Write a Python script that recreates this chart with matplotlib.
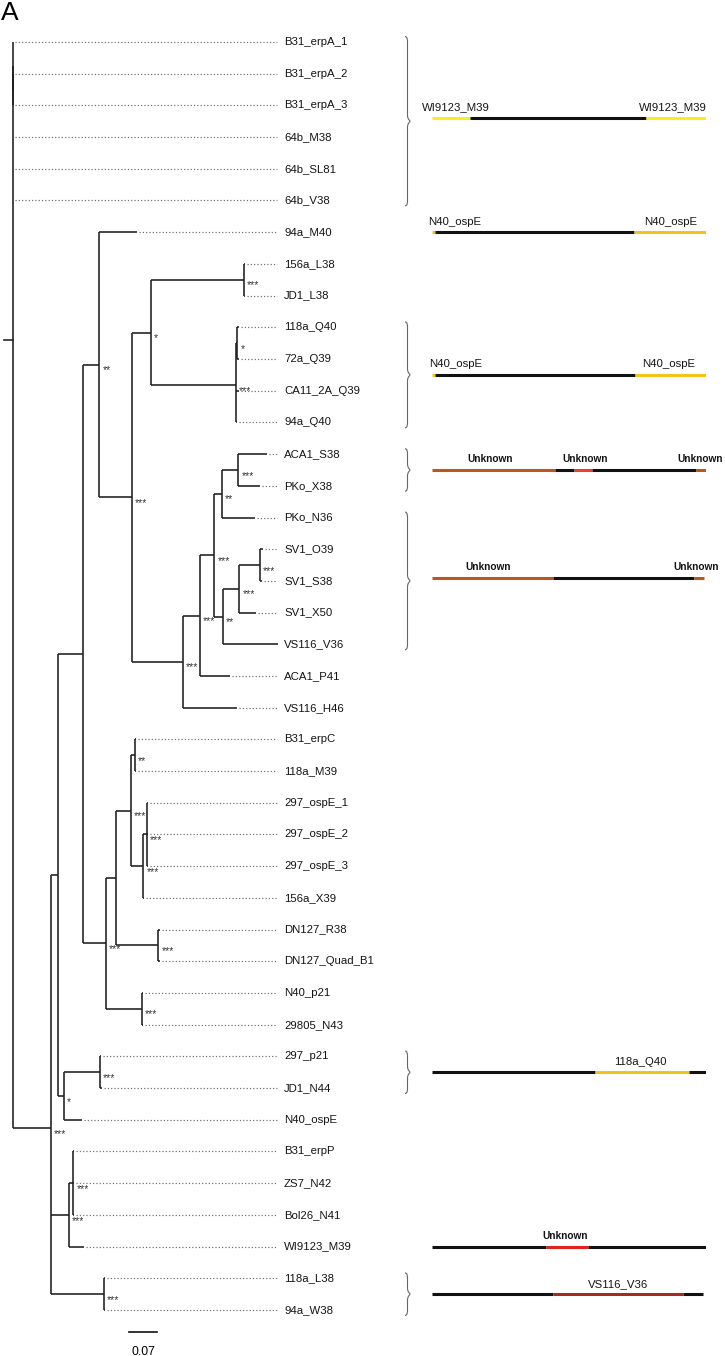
import matplotlib
matplotlib.use('Agg')
import matplotlib.pyplot as plt
from matplotlib.path import Path
from matplotlib.patches import PathPatch
import numpy as np

# --- tree data (depth = distance from root, substitutions/site) ---
LEAVES = ["B31_erpA_1", "B31_erpA_2", "B31_erpA_3", "64b_M38", "64b_SL81", "64b_V38",
          "94a_M40", "156a_L38", "JD1_L38", "118a_Q40", "72a_Q39", "CA11_2A_Q39", "94a_Q40",
          "ACA1_S38", "PKo_X38", "PKo_N36", "SV1_O39", "SV1_S38", "SV1_X50", "VS116_V36",
          "ACA1_P41", "VS116_H46", "B31_erpC", "118a_M39", "297_ospE_1", "297_ospE_2",
          "297_ospE_3", "156a_X39", "DN127_R38", "DN127_Quad_B1", "N40_p21", "29805_N43",
          "297_p21", "JD1_N44", "N40_ospE", "B31_erpP", "ZS7_N42", "Bol26_N41",
          "WI9123_M39", "118a_L38", "94a_W38"]
LEAF_PARENT = ["e123", "e23", "e23", "root", "root", "root",
               "D", "G", "G", "I", "I", "H", "H",
               "O", "O", "M", "Q", "Q", "P", "N",
               "K", "J", "X", "X", "Z", "Z",
               "Z", "Y", "W", "W", "U", "U",
               "AA", "AA", "AB", "BB", "BB", "BB",
               "AC", "AD", "AD"]
LEAF_DEPTH = [0.0, 0.0, 0.0, 0.0, 0.0, 0.0,
              0.311, 0.581, 0.581, 0.5655, 0.5655, 0.5655, 0.5605,
              0.635, 0.618, 0.6058, 0.625, 0.6233, 0.6083, 0.662,
              0.5433, 0.561, 0.308, 0.308, 0.337, 0.337,
              0.337, 0.328, 0.367, 0.367, 0.3245, 0.3245,
              0.2208, 0.2233, 0.174, 0.153, 0.153, 0.153,
              0.179, 0.2308, 0.2308]

NODES = ["root", "e123", "e23", "A", "B", "C", "D", "E", "F", "G", "H", "I",
         "J", "K", "L", "M", "O", "N", "P", "Q", "S", "T", "V", "X", "Y", "Z",
         "W", "U", "AB", "AA", "AC", "BB", "AD"]
NODE_PARENT = [None, "root", "e123", "root", "A", "B", "C", "D", "E", "F", "F", "H",
               "E", "J", "K", "L", "M", "L", "N", "P", "C", "S", "T", "V", "V", "Y",
               "T", "S", "B", "AB", "A", "AC", "A"]
NODE_DEPTH = [0.0, 0.0, 0.0, 0.095, 0.114, 0.1765, 0.2165, 0.2975, 0.345, 0.578, 0.557, 0.5615,
              0.425, 0.468, 0.504, 0.5225, 0.564, 0.525, 0.5665, 0.618, 0.233, 0.2575, 0.296,
              0.306, 0.3265, 0.335, 0.364, 0.3225, 0.128, 0.218, 0.141, 0.1515, 0.228]
NODE_SUPPORT = ["", "", "", "***", "", "", "**", "***", "*", "***", "***", "*",
                "***", "***", "***", "**", "***", "**", "***", "***", "***", "", "***",
                "**", "***", "***", "***", "***", "*", "***", "***", "***", "***"]

SCALE_LEN = 0.07

# --- recombination segment diagrams (fraction of gene length) ---
BAR_ROWS = [2.4, 6.0, 10.5, 13.5, 16.9, 32.5, 38.0, 39.5]
BAR_BREAKS = [[0, 0.14, 0.782, 1.0],
              [0, 0.012, 0.738, 1.0],
              [0, 0.012, 0.742, 1.0],
              [0, 0.45, 0.519, 0.584, 0.963, 1.0],
              [0, 0.444, 0.957, 0.994],
              [0, 0.596, 0.94, 1.0],
              [0, 0.416, 0.569, 1.0],
              [0, 0.444, 0.918, 0.991]]
BAR_COLORS = [["Y", "K", "Y"],
              ["G", "K", "G"],
              ["G", "K", "G"],
              ["B", "K", "R", "K", "B"],
              ["B", "K", "B"],
              ["K", "G", "K"],
              ["K", "R2", "K"],
              ["K", "D", "K"]]
BAR_LABELS = [[(0.089, "WI9123_M39"), (0.880, "WI9123_M39")],
              [(0.083, "N40_ospE"), (0.871, "N40_ospE")],
              [(0.087, "N40_ospE"), (0.866, "N40_ospE")],
              [(0.213, "Unknown"), (0.559, "Unknown"), (0.979, "Unknown")],
              [(0.206, "Unknown"), (0.966, "Unknown")],
              [(0.760, "118a_Q40")],
              [(0.487, "Unknown")],
              [(0.680, "VS116_V36")]]
BRACES = [(0, 5), (9, 12), (13, 14), (15, 19), (32, 33), (39, 40)]

COLORS = {"K": "#111111", "Y": "#F7EE22", "G": "#F2C318", "B": "#B8581F",
          "R": "#E8432C", "R2": "#E2231C", "D": "#A32A1E"}

FONT = "Liberation Sans"
W, H = 725, 1356
ROOT_PX, UNIT_PX = 12.7, 400.0
Y0_PX, ROW_PX = 42.0, 31.7

fig = plt.figure(figsize=(W / 100, H / 100), dpi=100)
ax = fig.add_axes([0, 0, 1, 1])
ax.set_xlim(-ROOT_PX / UNIT_PX, (W - ROOT_PX) / UNIT_PX)
ax.set_ylim((H - Y0_PX) / ROW_PX, -Y0_PX / ROW_PX)
ax.axis('off')

# children / y positions
children = {n: [] for n in NODES}
for n, p in zip(NODES, NODE_PARENT):
    if p is not None:
        children[p].append(n)
for i, p in enumerate(LEAF_PARENT):
    children[p].append(i)

depth = dict(zip(NODES, NODE_DEPTH))
ypos = {}


def node_y(n):
    if isinstance(n, int):
        return float(n)
    if n not in ypos:
        ypos[n] = np.mean([node_y(c) for c in children[n]])
    return ypos[n]


for n in NODES:
    node_y(n)

lw = 1.15
TREE_C = '#1e1e1e'
# internal nodes
for n, p, sup in zip(NODES, NODE_PARENT, NODE_SUPPORT):
    ys = [node_y(c) for c in children[n]]
    ax.plot([depth[n], depth[n]], [min(ys), max(ys)], color=TREE_C, lw=lw,
            solid_capstyle='butt')
    if p is not None:
        ax.plot([depth[p], depth[n]], [ypos[n], ypos[n]], color=TREE_C, lw=lw,
                solid_capstyle='butt')
    if sup:
        ax.text(depth[n] + 3 / UNIT_PX, ypos[n] + 0.18, sup, fontsize=7.5,
                family=FONT, color='#333333', ha='left', va='center')

# root stub
ax.plot([-9 / UNIT_PX, 0], [ypos["root"]] * 2, color=TREE_C, lw=lw)

# leaves
DOT_END = (277 - ROOT_PX) / UNIT_PX
LABEL_X = (284 - ROOT_PX) / UNIT_PX
for i, (name, p, d) in enumerate(zip(LEAVES, LEAF_PARENT, LEAF_DEPTH)):
    if d > depth[p]:
        ax.plot([depth[p], d], [i, i], color=TREE_C, lw=lw, solid_capstyle='butt')
    if d < DOT_END - 0.005:
        ax.plot([d + 2 / UNIT_PX, DOT_END], [i, i], color='#6a6a6a', lw=0.85,
                linestyle=(0, (1, 1.8)))
    ax.text(LABEL_X, i, name, fontsize=8.2, family=FONT, ha='left', va='center',
            color='#141414')

# scale bar
sb_x = (129 - ROOT_PX) / UNIT_PX
sb_y = (1332 - Y0_PX) / ROW_PX
ax.plot([sb_x, sb_x + SCALE_LEN], [sb_y, sb_y], color='#111111', lw=1.2)
ax.text(sb_x + SCALE_LEN / 2, sb_y + 0.62, f"{SCALE_LEN}", fontsize=8.7, family=FONT,
        ha='center', va='center')

# --- right panel ---
BAR_L, BAR_R = 431.7, 705.7
axr = fig.add_axes([400 / W, 0, (BAR_R - 400) / W, 1], sharey=ax)
axr.set_xlim(-(BAR_L - 400) / (BAR_R - BAR_L), 1)
axr.axis('off')
axr.patch.set_alpha(0)

for row, brk, cols, labs in zip(BAR_ROWS, BAR_BREAKS, BAR_COLORS, BAR_LABELS):
    for a, b, c in zip(brk[:-1], brk[1:], cols):
        axr.plot([a, b], [row, row], color=COLORS[c], lw=2.2, solid_capstyle='butt')
    for lx, txt in labs:
        bold = txt == "Unknown"
        axr.text(lx, row - 0.33, txt, fontsize=7.3 if bold else 8.2, family=FONT,
                 fontweight='bold' if bold else 'normal', ha='center', va='center',
                 clip_on=False, color='#141414')


def brace(axx, y0, y1, x, w, h):
    ym = (y0 + y1) / 2
    verts = [(x, y0), (x + w, y0), (x + w, y0 + h), (x + w, y0 + 2 * h),
             (x + w, ym - 2 * h),
             (x + w, ym - h / 2), (x + 2 * w, ym - h / 4), (x + 2 * w, ym),
             (x + 2 * w, ym + h / 4), (x + w, ym + h / 2), (x + w, ym + 2 * h),
             (x + w, y1 - 2 * h),
             (x + w, y1 - h), (x + w, y1), (x, y1)]
    codes = [Path.MOVETO, Path.CURVE4, Path.CURVE4, Path.CURVE4,
             Path.LINETO,
             Path.CURVE4, Path.CURVE4, Path.CURVE4,
             Path.CURVE4, Path.CURVE4, Path.CURVE4,
             Path.LINETO,
             Path.CURVE4, Path.CURVE4, Path.CURVE4]
    axx.add_patch(PathPatch(Path(verts, codes), fill=False, edgecolor='#666666',
                            lw=0.8, clip_on=False))


bx = (405 - BAR_L) / (BAR_R - BAR_L)
bw = 2.5 / (BAR_R - BAR_L)
for first, last in BRACES:
    brace(axr, first - 0.17, last + 0.17, bx, bw, 0.1)

fig.text(0.002, 0.999, "A", fontsize=19, family=FONT, ha='left', va='top')

fig.savefig("out.png", dpi=100)
